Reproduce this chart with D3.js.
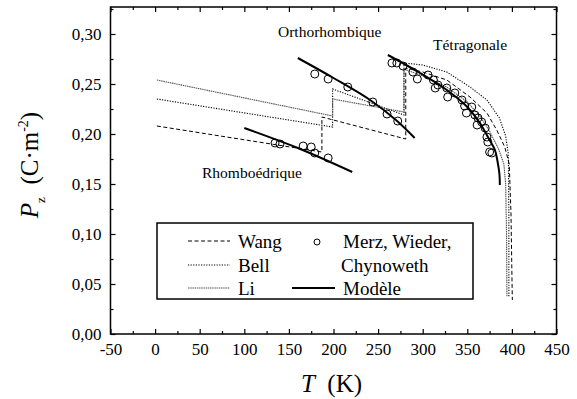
<!DOCTYPE html>
<html>
<head>
<meta charset="utf-8">
<script src="https://cdn.jsdelivr.net/npm/d3@7"></script>
<style>
  body { margin: 0; background: #fff; }
  svg { display: block; font-family: "Liberation Serif", "Times New Roman", serif; }
</style>
</head>
<body>
<div id="chart"></div>
<script>
// Wang model (dashed)
var wangT = [2, 187, 187, 281, 281, 300, 327, 353, 372, 383, 392, 397, 399, 400, 400.5];
var wangP = [0.208, 0.182, 0.217, 0.195, 0.266, 0.262, 0.254, 0.237, 0.221, 0.204, 0.187, 0.170, 0.120, 0.060, 0.034];
// Bell model (dotted)
var bellT = [2, 199, 199, 279, 279, 300, 327, 353, 372, 386, 393, 396, 396.6, 396.6];
var bellP = [0.235, 0.207, 0.245, 0.219, 0.271, 0.269, 0.262, 0.247, 0.234, 0.216, 0.198, 0.180, 0.120, 0.037];
// Li model (fine dotted)
var liT = [2, 199, 199, 279, 279, 300, 327, 350, 364, 375, 385, 391, 393, 394, 394.4];
var liP = [0.254, 0.218, 0.235, 0.222, 0.265, 0.258, 0.247, 0.232, 0.218, 0.203, 0.185, 0.170, 0.150, 0.100, 0.037];
// Modèle (thick solid), one segment per phase
var modRhoT = [100, 160, 221];
var modRhoP = [0.206, 0.186, 0.162];
var modOrthoT = [160, 200, 241, 270, 291];
var modOrthoP = [0.276, 0.256, 0.234, 0.214, 0.196];
var modTetraT = [261, 297, 327, 350, 364, 375, 381, 384, 386, 386.5];
var modTetraP = [0.279, 0.261, 0.244, 0.227, 0.211, 0.194, 0.184, 0.172, 0.160, 0.149];
// Merz, Wieder, Chynoweth measurements
var merzT = [134.5, 140, 166, 175, 179, 194,
  179, 194, 216, 244, 260, 272,
  265.5, 271, 278, 289, 294, 306, 312, 314, 317, 327, 328, 336, 344, 347, 349,
  355, 358.5, 362, 361, 366, 370, 372, 373, 375, 377.5];
var merzP = [0.191, 0.190, 0.188, 0.187, 0.181, 0.176,
  0.260, 0.255, 0.247, 0.232, 0.220, 0.213,
  0.271, 0.271, 0.268, 0.262, 0.255, 0.259, 0.254, 0.246, 0.249, 0.246, 0.237, 0.241, 0.234, 0.228, 0.221,
  0.227, 0.219, 0.216, 0.209, 0.212, 0.206, 0.197, 0.192, 0.182, 0.181];

var xTicks = [-50, 0, 50, 100, 150, 200, 250, 300, 350, 400, 450];
var yTicks = [0, 0.05, 0.10, 0.15, 0.20, 0.25, 0.30];

var width = 577, height = 399;
var plotL = 110.5, plotR = 556.5, plotT = 7, plotB = 334;

var svg = d3.select('#chart')
  .append('svg')
  .attr('width', width)
  .attr('height', height);

var x = d3.scaleLinear().domain([-50, 450]).range([plotL, plotR]);
var y = d3.scaleLinear().domain([0, 0.327]).range([plotB, plotT]);

function zip(ts, ps) {
  return ts.map(function (t, i) { return [t, ps[i]]; });
}

var line = d3.line()
  .x(function (d) { return x(d[0]); })
  .y(function (d) { return y(d[1]); });
var smooth = d3.line()
  .x(function (d) { return x(d[0]); })
  .y(function (d) { return y(d[1]); })
  .curve(d3.curveCatmullRom);

var fmtY = function (d) { return d.toFixed(2).replace('.', ','); };
var fmtX = function (d) { return String(d); };
var xMinor = d3.range(-25, 450, 50);
var yMinor = d3.range(0.025, 0.326, 0.05);

function styleAxis(g) {
  g.select('.domain').remove();
  g.selectAll('line').attr('stroke', '#000').attr('stroke-width', 1.2);
  g.selectAll('text').attr('font-size', 17).attr('fill', '#000')
    .attr('font-family', '"Liberation Serif", "Times New Roman", serif');
}

// bottom
svg.append('g').attr('transform', 'translate(0,' + plotB + ')')
  .call(d3.axisBottom(x).tickValues(xTicks).tickSize(-5).tickPadding(9).tickFormat(fmtX))
  .call(styleAxis);
svg.append('g').attr('transform', 'translate(0,' + plotB + ')')
  .call(d3.axisBottom(x).tickValues(xMinor).tickSize(-3).tickFormat(''))
  .call(styleAxis);
// top
svg.append('g').attr('transform', 'translate(0,' + plotT + ')')
  .call(d3.axisTop(x).tickValues(xTicks).tickSize(-5).tickFormat(''))
  .call(styleAxis);
svg.append('g').attr('transform', 'translate(0,' + plotT + ')')
  .call(d3.axisTop(x).tickValues(xMinor).tickSize(-3).tickFormat(''))
  .call(styleAxis);
// left
svg.append('g').attr('transform', 'translate(' + plotL + ',0)')
  .call(d3.axisLeft(y).tickValues(yTicks).tickSize(-5).tickPadding(9).tickFormat(fmtY))
  .call(styleAxis);
svg.append('g').attr('transform', 'translate(' + plotL + ',0)')
  .call(d3.axisLeft(y).tickValues(yMinor).tickSize(-3).tickFormat(''))
  .call(styleAxis);
// right
svg.append('g').attr('transform', 'translate(' + plotR + ',0)')
  .call(d3.axisRight(y).tickValues(yTicks).tickSize(-5).tickFormat(''))
  .call(styleAxis);
svg.append('g').attr('transform', 'translate(' + plotR + ',0)')
  .call(d3.axisRight(y).tickValues(yMinor).tickSize(-3).tickFormat(''))
  .call(styleAxis);

svg.append('rect')
  .attr('x', plotL).attr('y', plotT)
  .attr('width', plotR - plotL).attr('height', plotB - plotT)
  .attr('fill', 'none').attr('stroke', '#000').attr('stroke-width', 1.5);

// models
svg.append('path').datum(zip(wangT, wangP)).attr('d', line)
  .attr('fill', 'none').attr('stroke', '#000').attr('stroke-width', 1)
  .attr('stroke-dasharray', '4,2.5');
svg.append('path').datum(zip(bellT, bellP)).attr('d', line)
  .attr('fill', 'none').attr('stroke', '#000').attr('stroke-width', 1.1)
  .attr('stroke-dasharray', '1.2,1.4');
svg.append('path').datum(zip(liT, liP)).attr('d', line)
  .attr('fill', 'none').attr('stroke', '#555').attr('stroke-width', 1.1)
  .attr('stroke-dasharray', '1.5,0.7');

[[modRhoT, modRhoP], [modOrthoT, modOrthoP], [modTetraT, modTetraP]].forEach(function (s) {
  svg.append('path').datum(zip(s[0], s[1])).attr('d', smooth)
    .attr('fill', 'none').attr('stroke', '#000').attr('stroke-width', 2);
});

svg.selectAll('circle.merz')
  .data(zip(merzT, merzP))
  .enter()
  .append('circle')
  .attr('class', 'merz')
  .attr('cx', function (d) { return x(d[0]); })
  .attr('cy', function (d) { return y(d[1]); })
  .attr('r', 4)
  .attr('fill', 'none')
  .attr('stroke', '#000')
  .attr('stroke-width', 1);

// phase labels
var phases = [
  { text: 'Orthorhombique', x: 278, y: 37 },
  { text: 'Tétragonale', x: 433, y: 50 },
  { text: 'Rhomboédrique', x: 202, y: 178 }
];
svg.selectAll('text.phase')
  .data(phases)
  .enter()
  .append('text')
  .attr('class', 'phase')
  .attr('x', function (d) { return d.x; })
  .attr('y', function (d) { return d.y; })
  .attr('font-size', 15.5)
  .text(function (d) { return d.text; });

// legend
var lg = svg.append('g');
lg.append('rect')
  .attr('x', 157).attr('y', 223).attr('width', 316).attr('height', 76)
  .attr('fill', '#fff').attr('stroke', '#000').attr('stroke-width', 1.5);
var legRows = [
  { name: 'Wang', y: 241, dash: '4,2.5', color: '#000' },
  { name: 'Bell', y: 265, dash: '1.2,1.4', color: '#000' },
  { name: 'Li', y: 288, dash: '1.5,0.7', color: '#555' }
];
legRows.forEach(function (r) {
  lg.append('line').attr('x1', 188).attr('x2', 230).attr('y1', r.y).attr('y2', r.y)
    .attr('stroke', r.color).attr('stroke-width', 1.1).attr('stroke-dasharray', r.dash);
  lg.append('text').attr('x', 238).attr('y', r.y + 7).attr('font-size', 19).text(r.name);
});
lg.append('circle').attr('cx', 317).attr('cy', 242).attr('r', 3)
  .attr('fill', 'none').attr('stroke', '#000').attr('stroke-width', 1);
lg.append('text').attr('x', 343).attr('y', 248).attr('font-size', 19).text('Merz, Wieder,');
lg.append('text').attr('x', 341).attr('y', 272).attr('font-size', 19).text('Chynoweth');
lg.append('line').attr('x1', 292).attr('x2', 335).attr('y1', 288).attr('y2', 288)
  .attr('stroke', '#000').attr('stroke-width', 2);
lg.append('text').attr('x', 343).attr('y', 295).attr('font-size', 19).text('Modèle');

// axis titles
var xt = svg.append('text')
  .attr('x', (plotL + plotR) / 2 - 2).attr('y', 392)
  .attr('text-anchor', 'middle').attr('font-size', 25);
xt.append('tspan').attr('font-style', 'italic').text('T');
xt.append('tspan').text('\u00a0\u00a0(K)');

var yt = svg.append('text')
  .attr('transform', 'translate(38,165) rotate(-90)')
  .attr('text-anchor', 'middle').attr('font-size', 25);
yt.append('tspan').attr('font-style', 'italic').text('P');
yt.append('tspan').attr('font-size', 13).attr('dy', 7).text('z');
yt.append('tspan').attr('dy', -7).text('\u00a0\u00a0(C\u00b7m');
yt.append('tspan').attr('font-size', 14).attr('dy', -10).text('-2');
yt.append('tspan').attr('dy', 10).text(')');
</script>
</body>
</html>
